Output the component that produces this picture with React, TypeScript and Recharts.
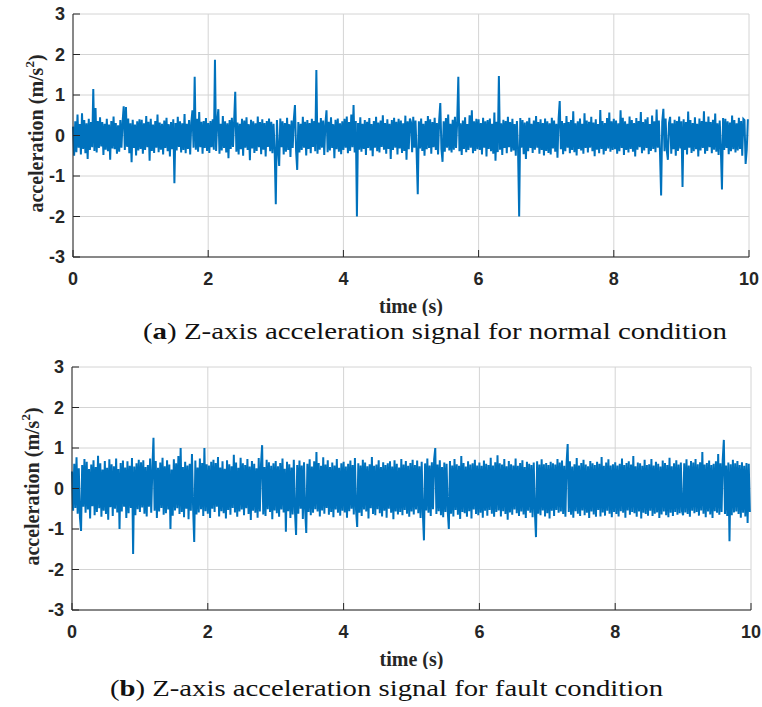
import {
	CartesianGrid,
	Line,
	LineChart,
	XAxis,
	YAxis,
} from "recharts";

// one row per second of recording, acceleration in m/s²
const normalRows: number[][] = [
	[.22,-.50,.35,-.41,.52,-.30,.28,-.47,.55,-.33,.38,-.44,.30,-.58,.41,-.36,.33,-.29,1.15,-.38,.68,-.42,.36,-.31,.45,-.27,.33,-.48,.29,-.35,.41,-.39,.27,-.60,.36,-.32,.47,-.34,.31,-.45,.25,-.40,.38,-.30,.33,.72,-.36,.70,-.28,.42,-.44,.30,-.66,.39,-.31,.27,-.49,.35,-.37,.40],
	[-.33,.39,-.45,.30,-.36,.48,-.29,.34,-.62,.41,-.38,.27,-.43,.36,-.30,.52,-.41,.32,-.35,.29,-.47,.37,-.31,.44,-.39,.28,-.52,.33,-.34,.40,-1.18,.31,-.37,.46,-.28,.35,-.42,.30,-.36,.53,-.44,.29,-.33,.38,-.47,.32,.62,-.30,1.45,-.35,.41,-.40,.58,-.29,.34,-.45,.36,-.31,.43,-.38],
	[.31,-.43,.36,-.29,.40,-.35,1.87,-.38,.33,.65,-.45,.29,-.37,.48,-.31,.35,-.42,.30,-.56,.38,-.33,.44,-.28,.36,1.08,-.40,.32,-.47,.29,-.34,.41,-.50,.37,-.30,.45,-.36,.28,-.61,.39,-.32,.35,-.43,.30,-.38,.47,-.29,.33,-.46,.40,-.35,.31,-.52,.36,-.28,.42,-.39,.34,-.44,.29,-.37],
	[-1.70,.38,-.33,-.75,.42,-.29,.35,-.47,.31,-.40,.44,-.36,.28,-.53,.37,-.31,.40,.75,-.38,-.85,.33,-.42,.29,-.36,.46,-.30,.34,-.49,.38,-.33,.31,-.44,.41,-.28,.36,-.39,1.62,-.45,.32,-.35,.43,-.30,.37,-.48,.29,.62,-.41,.34,-.37,.45,-.31,.28,-.56,.39,-.34,.42,-.40,.30,-.46,.35],
	[-.36,.41,-.30,.47,-.44,.33,-.38,.52,-.29,.75,-.42,.36,-2.00,.31,-.35,.45,-.40,.29,-.33,.38,-.48,.34,-.31,.43,-.37,.28,-.51,.36,-.30,.46,-.39,.32,-.42,.37,-.28,.50,-.35,.31,-.45,.40,-.33,.29,-.58,.38,-.36,.44,-.30,.34,-.47,.41,-.32,.37,-.43,.30,-.38,.49,-.60,.35,-.34,.42],
	[.33,-.41,.46,-.30,.37,-.44,-1.45,.35,-.32,.42,-.38,.29,-.50,.36,-.34,.48,-.31,.40,-.45,.33,-.29,.44,-.36,.31,-.47,.38,.80,-.33,-.65,.35,-.40,.43,-.30,.52,-.37,.29,-.42,.39,-.35,.46,-.31,.34,1.45,-.39,.30,-.48,.37,-.33,.45,-.41,.28,-.36,.50,-.30,.62,-.44,.35,-.38,.41,-.34],
	[.40,-.36,.31,-.47,.44,-.30,.35,-.52,.38,-.33,.42,-.39,.29,-.45,.57,-.62,.34,-.41,1.47,-.35,.30,-.48,.39,-.31,.36,-.44,.46,-.29,.33,-.40,.41,-.37,.28,-.50,.36,-.34,-2.00,.43,-.30,.38,-.46,.32,-.58,.35,-.39,.44,-.31,.29,-.43,.37,-.35,.48,-.30,.33,-.45,.40,-.36,.31,-.49,.42],
	[-.38,.35,-.43,.30,-.47,.44,-.32,.37,-.40,.29,-.55,.41,.85,-.34,.36,-.46,.31,-.39,.48,-.30,.33,-.44,.38,-.36,.60,-.41,.30,-.49,.35,-.33,.42,-.37,.29,-.45,.55,-.31,.37,-.42,.34,-.30,.46,-.39,.32,-.51,.40,-.35,.28,-.44,.63,-.33,.36,-.47,.31,-.38,.43,-.32,.57,-.40,.35,-.36],
	[.41,-.34,.37,-.45,.30,-.39,.62,-.31,.44,-.48,.35,-.36,.29,-.42,.47,-.33,.38,-.40,.31,-.52,.43,-.35,.36,-.29,.58,-.44,.33,-.37,.40,-.31,.45,-.46,.28,-.38,.49,-.33,.35,-.41,.64,-.30,.37,-.43,-1.48,.34,.66,-.39,.42,-.36,-.60,.31,.46,-.45,.30,-.34,.39,-.50,.36,-.38,.47,-.32],
	[.35,-1.27,.40,-.36,.33,-.47,.59,-.30,.38,-.43,.31,-.39,.45,-.34,.29,-.52,.42,-.37,.36,-.31,.60,-.45,.34,-.38,.47,-.29,.33,-.44,.39,-.35,.54,-.40,.30,-.48,.37,-.33,-1.33,.43,-.36,.41,-.31,.35,-.46,.32,-.39,.49,-.34,.38,-.42,.30,-.37,.44,-.33,.36,-.50,.41,.38,-.70,-.35,.40],
];

const faultRows: number[][] = [
	[.42,-.55,.61,-.48,.77,-.62,.50,-.71,-1.05,.58,-.45,.73,-.60,.66,-.52,.48,-.74,.59,-.44,.70,-.66,.53,-.58,.81,-.49,.62,-.70,.47,-.55,.68,-.63,.51,-.77,.72,-.46,.60,-.68,.55,-.50,.74,-.59,.48,-1.00,.63,-.57,.69,-.45,.52,-.73,.67,-.61,.56,-.48,.75,-1.62,.54,-.66,.62,-.51,.71],
	[-.58,.65,-.47,.70,-.62,.53,-.69,.58,-.45,.74,-.60,.49,1.25,-.55,.68,-.73,.51,-.57,.64,-.48,.76,-.65,.55,-.61,.70,-.52,.59,-1.00,.47,-.67,.72,-.54,.62,-.49,.80,-.63,1.00,-.58,.53,-.71,.66,-.50,.57,-.76,.61,-.55,.85,-.47,-1.32,.69,-.64,.52,-.59,.74,-.51,.63,-.68,1.00,-.56,.60],
	[-.62,.57,-.73,.66,-.50,.71,-.58,.63,-.45,.78,-.69,.52,-.56,.67,-.61,.49,-.74,.70,-.53,.60,-.65,.55,-.48,.83,-.59,.64,-.70,.51,-.57,.76,-.52,.62,-.66,.58,-.49,.73,-.63,.54,-.78,.68,-.55,.61,-.60,.50,-.72,.75,-.57,.59,1.07,-.64,.53,-.68,.71,-.51,.65,-.58,.56,-.76,.62,-.54],
	[.68,-.61,.55,-.70,.63,-.52,.74,-.59,.49,-1.07,.66,-.56,.60,-.73,.52,-.64,.71,-.55,-1.15,.58,-.62,.69,-.50,.57,-.75,.65,-.53,-1.10,.61,-.58,.72,-.66,.54,-.60,.67,-.51,.90,-.57,.63,-.69,.56,-.54,.77,-.62,.59,-.48,.70,-.65,.53,-.58,.64,-.71,.57,-.52,.73,-.60,.51,-.67,.62,-.55],
	[.66,-.59,.54,-.72,.61,-.56,.69,-.50,.58,-.64,.75,-.53,-.95,.62,-.60,.57,-.68,.71,-.52,.64,-.57,.55,-.74,.60,-.49,.78,-.63,.56,-.66,.59,-.51,.70,-.61,.53,-.69,.65,-.55,.58,-.72,.62,-.50,.67,-.60,.54,-.76,.70,-.57,.61,-.64,.52,-.58,.73,-.66,.59,-.53,.68,-.62,.56,-.70,.63],
	[-.57,.71,-.64,.58,-.52,.69,-.61,.55,-.73,.66,-.59,-1.28,.62,-.54,.74,-.60,.57,-.68,.65,-.51,.72,1.00,-.63,.59,-.56,.70,-.66,.53,-.71,.64,-.58,.61,-.55,-1.00,.68,-.62,.57,-.69,.73,-.53,.60,-.65,.56,-.75,.80,-.58,.63,-.61,.54,-.70,.67,-.56,.59,-.74,.62,-.52,.71,-.63,.57,-.66],
	[.64,-.60,.56,-.72,.69,-.55,.61,-.67,.58,-.53,.76,-.62,.57,-.70,.65,-.58,.82,-.54,.62,-.69,.59,-.56,.73,-.63,.55,-.77,.68,-.59,.60,-.65,.57,-.52,.74,-.61,.56,-.68,.63,-.57,.70,-.64,.53,-.73,.66,-.55,.61,-.60,.58,-.71,.64,-.56,-1.20,.67,-.62,.59,-.66,.72,-.54,.60,-.69,.63],
	[-.61,.58,-.74,.66,-.55,.62,-.68,.59,-.53,.73,-.60,.64,-.57,.69,-.63,.56,-.70,.61,1.10,-.58,.67,-.65,.54,-.72,.60,-.56,.75,-.62,.57,-.68,.63,-.54,.71,-.66,.59,-.60,.55,-.73,.68,-.57,.62,-.64,.58,-.70,.66,-.53,.61,-.69,.78,-.59,.56,-.67,.64,-.55,.72,-.62,.57,-.71,.60,-.58],
	[.65,-.63,.57,-.69,.61,-.56,.74,-.60,.58,-.72,.63,-.54,.67,-.65,.59,-.58,.80,-.61,.55,-.70,.64,-.57,.62,-.74,.56,-.60,.71,-.63,.58,-.67,.60,-.55,.73,-.68,.57,-.62,.66,-.59,.61,-.73,.54,-.64,.69,-.57,.63,-.66,.58,-.71,.76,-.60,.55,-.68,.62,-.58,.70,-.65,.59,-.61,.64,-.56],
	[-.66,.62,-.59,.72,-.63,.57,-.70,.68,-.55,.64,-.61,.73,-.58,.60,-.67,.65,-.54,.90,-.62,.59,-.71,.63,-.57,.69,-.64,.58,-.73,.61,-.56,.67,-.60,.85,-.65,.62,-.58,.70,1.20,-.63,.57,-.68,.64,-1.30,.60,-.66,.71,-.59,.62,-.57,.68,-.63,.58,-.72,.65,-.60,.56,-.69,.63,-.85,.61,-.58],
];

const timeTicks = [0, 2, 4, 6, 8, 10];
const accTicks = [-3, -2, -1, 0, 1, 2, 3];

const captionA = "Z-axis acceleration signal for normal condition";
const captionB = "Z-axis acceleration signal for fault condition";

const BLUE = "#0072bd";
const INK = "#262626";
const GRID = "#d4d4d4";
const SERIF = "Liberation Serif";
const SANS = "Liberation Sans";

// sample j of second s sits at s + j/n
function toSeries(rows: number[][]) {
	return rows.flatMap((row, s) =>
		row.map((v, j) => ({ t: s + j / row.length, v })),
	);
}

function yLabel(cx: number) {
	return (props: any) => {
		const vb = props.viewBox ?? { x: 0, y: 0, width: 0, height: 0 };
		const cy = vb.y + vb.height / 2 - 2;
		return (
			<text
				x={cx}
				y={cy}
				transform={`rotate(-90 ${cx} ${cy})`}
				textAnchor="middle"
				dominantBaseline="central"
				style={{ fontFamily: SERIF, fontWeight: 700, fontSize: 20 }}
				fill={INK}
			>
				acceleration (m/s
				<tspan dy={-7} style={{ fontSize: 13 }}>
					2
				</tspan>
				<tspan dy={7}>)</tspan>
			</text>
		);
	};
}

function xLabel(props: any) {
	const vb = props.viewBox ?? { x: 0, y: 0, width: 0, height: 0 };
	return (
		<text
			x={vb.x + vb.width / 2}
			y={vb.y + 56}
			textAnchor="middle"
			style={{ fontFamily: SERIF, fontWeight: 700, fontSize: 20 }}
			fill={INK}
		>
			time (s)
		</text>
	);
}

interface PanelProps {
	rows: number[][];
	height: number;
	left: number;
	right: number;
	labelX: number;
}

function SignalPanel({ rows, height, left, right, labelX }: PanelProps) {
	const data = toSeries(rows);
	const tickStyle = { fill: INK, fontSize: 18, fontWeight: 700, fontFamily: SANS };
	return (
		<LineChart
			width={762}
			height={height}
			data={data}
			margin={{ top: 14, right, left: 0, bottom: 0 }}
		>
			<CartesianGrid stroke={GRID} strokeWidth={1} xAxisId="b" yAxisId="l" />
			<XAxis
				xAxisId="b"
				dataKey="t"
				type="number"
				domain={[0, 10]}
				ticks={timeTicks}
				height={height - 14 - 243}
				stroke={INK}
				tickSize={-7}
				tickMargin={22}
				tick={tickStyle}
				label={{ content: xLabel }}
			/>
			<XAxis
				xAxisId="t"
				orientation="top"
				type="number"
				domain={[0, 10]}
				ticks={timeTicks}
				height={0}
				mirror
				tick={false}
				tickSize={7}
				stroke={INK}
			/>
			<YAxis
				yAxisId="l"
				type="number"
				domain={[-3, 3]}
				ticks={accTicks}
				width={left}
				stroke={INK}
				tickSize={-7}
				tickMargin={15}
				tick={tickStyle}
				label={{ content: yLabel(labelX) }}
			/>
			<YAxis
				yAxisId="r"
				orientation="right"
				type="number"
				domain={[-3, 3]}
				ticks={accTicks}
				width={0}
				mirror
				tick={false}
				tickSize={7}
				stroke={INK}
			/>
			<Line
				xAxisId="b"
				yAxisId="l"
				type="linear"
				dataKey="v"
				stroke={BLUE}
				strokeWidth={2}
				dot={false}
				isAnimationActive={false}
			/>
		</LineChart>
	);
}

export default function App() {
	return (
		<div
			style={{
				position: "absolute",
				left: 0,
				top: 0,
				width: 762,
				height: 707,
				background: "#fff",
			}}
		>
			<div style={{ position: "absolute", left: 0, top: 0 }}>
				<SignalPanel rows={normalRows} height={316} left={73} right={13} labelX={36} />
			</div>
			<div style={{ position: "absolute", left: 0, top: 353 }}>
				<SignalPanel rows={faultRows} height={316} left={72} right={11} labelX={32} />
			</div>
			<svg
				width={762}
				height={707}
				style={{ position: "absolute", left: 0, top: 0, pointerEvents: "none" }}
			>
				<text
					x={143}
					y={339}
					textLength={584}
					lengthAdjust="spacingAndGlyphs"
					style={{ fontFamily: SERIF, fontSize: 23 }}
					fill="#111"
				>
					(<tspan style={{ fontWeight: 700 }}>a</tspan>) {captionA}
				</text>
				<text
					x={110}
					y={696}
					textLength={553}
					lengthAdjust="spacingAndGlyphs"
					style={{ fontFamily: SERIF, fontSize: 23 }}
					fill="#111"
				>
					(<tspan style={{ fontWeight: 700 }}>b</tspan>) {captionB}
				</text>
			</svg>
		</div>
	);
}
